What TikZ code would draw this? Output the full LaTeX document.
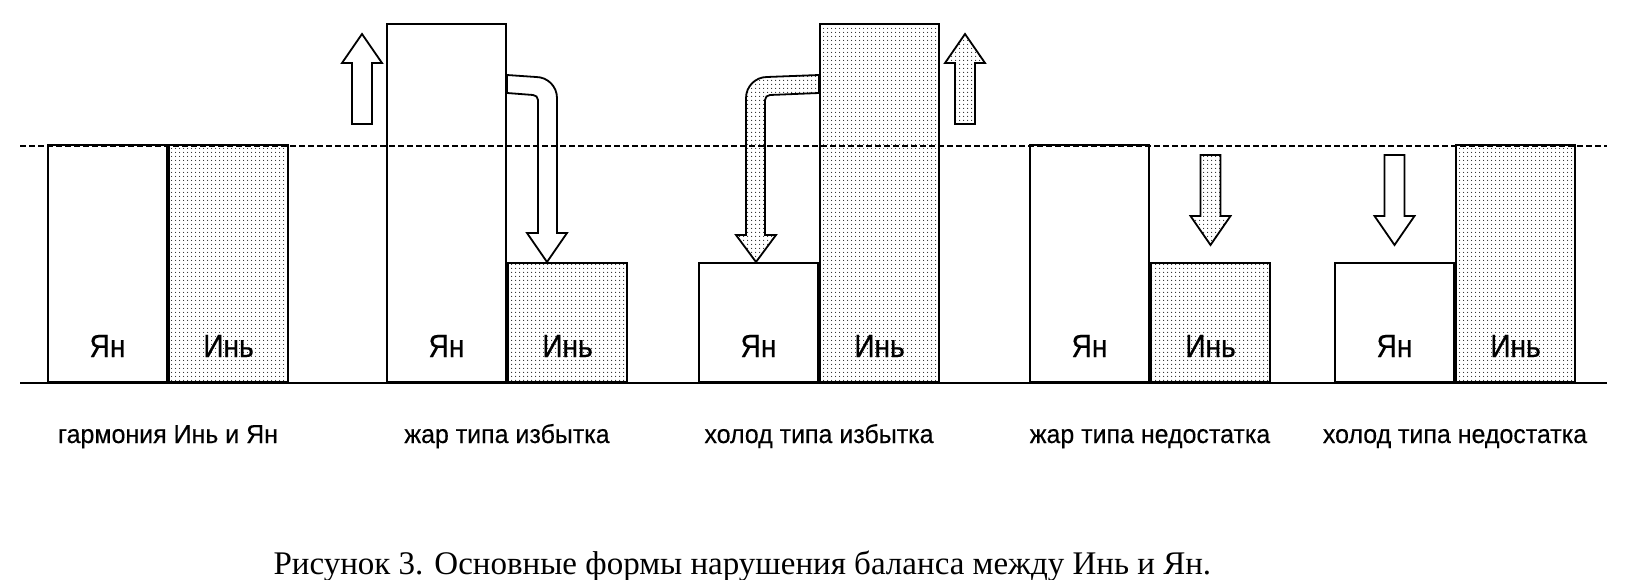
\documentclass[tikz,border=0pt]{standalone}
\usepackage{fontspec}
\usetikzlibrary{positioning,calc,patterns.meta}
\newfontfamily\barfont[FakeStretch=0.88, FakeBold=0.4]{Liberation Sans}
\newfontfamily\subfont[FakeStretch=0.96, FakeBold=0.3]{Liberation Sans}
\newfontfamily\capfont{Liberation Serif}

\begin{document}
\begin{tikzpicture}[
    x=1pt, y=-1pt, % pixel grid, y pointing down
    bar/.style={rectangle, draw, line width=2pt, anchor=south west, minimum width=119pt, inner sep=0pt},
    dotfill/.style={pattern={Dots[distance=4pt, radius=0.65pt]}, pattern color=black!85},
    yang/.style={bar},
    yin/.style={bar, dotfill},
    lvlfull/.style={minimum height=237pt},
    lvlhigh/.style={minimum height=358pt},
    lvllow/.style={minimum height=119pt},
    barlabel/.style={anchor=base, yshift=26pt, font=\barfont\fontsize{32}{32}\selectfont},
    sublabel/.style={anchor=base, yshift=-60pt, font=\subfont\fontsize{26}{26}\selectfont},
    bentarrow/.style={draw, line width=1.8pt},
    pics/blockup/.style={code={
        \draw [line width=1.8pt, pic actions] (-10,0) -- (-10,-61) -- (-20,-61) -- (0,-90) -- (20,-61) -- (10,-61) -- (10,0) -- cycle;
    }}
]
    \useasboundingbox (0,0) rectangle (1628,580);

    % Norm and ground lines
    \coordinate (normL) at (20,146);
    \coordinate (normR) at (1607,146);
    \coordinate (groundL) at (20,383);
    \coordinate (groundR) at (1607,383);
    \draw [line width=1.8pt, dash pattern=on 6pt off 3pt] (normL) -- (normR);

    % Bars
    \node (yang1) [yang, lvlfull] at (47,383) {};
    \node (yin1) [yin, lvlfull] at (yang1.south east) {};
    \node (yang2) [yang, lvlhigh] at (386,383) {};
    \node (yin2) [yin, lvllow] at (yang2.south east) {};
    \node (yang3) [yang, lvllow] at (698,383) {};
    \node (yin3) [yin, lvlhigh] at (yang3.south east) {};
    \node (yang4) [yang, lvlfull] at (1029,383) {};
    \node (yin4) [yin, lvllow] at (yang4.south east) {};
    \node (yang5) [yang, lvllow] at (1334,383) {};
    \node (yin5) [yin, lvlfull] at (yang5.south east) {};

    \draw [line width=2.6pt] (groundL) -- (groundR);

    % Labels
    \foreach \i in {1,...,5} {
        \node [barlabel] at (yang\i.south) {Ян};
        \node [barlabel] at (yin\i.south) {Инь};
    }
    \node [sublabel] at (yang1.south east) {гармония Инь и Ян};
    \node [sublabel] at (yang2.south east) {жар типа избытка};
    \node [sublabel] at (yang3.south east) {холод типа избытка};
    \node [sublabel] at (yang4.south east) {жар типа недостатка};
    \node [sublabel] at (yang5.south east) {холод типа недостатка};

    % Straight arrows
    \pic (rise2) at ([xshift=-24pt, yshift=-101pt]yang2.north west) {blockup};
    \pic [dotfill] (rise3) at ([xshift=25pt, yshift=-101pt]yin3.north east) {blockup};
    \pic [dotfill, rotate=180] (fall4) at ([yshift=107pt]yin4.north) {blockup};
    \pic [rotate=180] (fall5) at ([yshift=107pt]yang5.north) {blockup};

    % Bent arrows
    \draw [bentarrow] ($(yang2.north east)+(0,52)$) -- (536,77) arc [start angle=90, end angle=0, radius=21pt] -- (557,233) -- (567,233) -- (547,262) -- (527,233) -- (538,233) -- (538,100) arc [start angle=0, end angle=90, radius=5pt] -- ($(yang2.north east)+(0,70)$) -- cycle;
    \draw [bentarrow, dotfill] ($(yin3.north west)+(0,52)$) -- (767,77) arc [start angle=90, end angle=180, radius=21pt] -- (746,235) -- (736,235) -- (756,262) -- (776,235) -- (765,235) -- (765,100) arc [start angle=180, end angle=90, radius=5pt] -- ($(yin3.north west)+(0,70)$) -- cycle;

    % Caption
    \node (caption) [anchor=base west, font=\capfont\fontsize{33}{33}\selectfont] at (270,574) {Рисунок 3. Основные формы нарушения баланса между Инь и Ян.};

\end{tikzpicture}
\end{document}
